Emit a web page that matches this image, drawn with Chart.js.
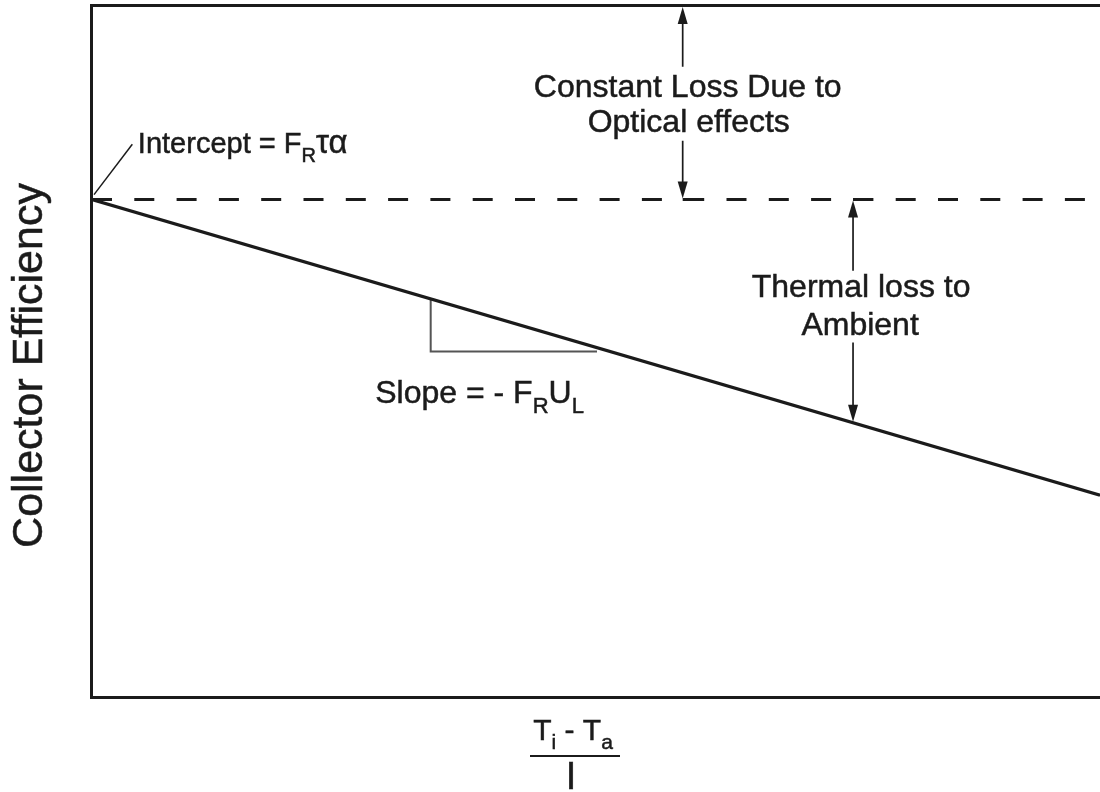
<!DOCTYPE html>
<html>
<head>
<meta charset="utf-8">
<title>Collector Efficiency</title>
<script src="https://cdn.jsdelivr.net/npm/chart.js@4/dist/chart.umd.min.js"></script>
<style>
  html, body { margin: 0; padding: 0; background: #fff; }
  #diagram { width: 1100px; height: 792px; }
</style>
</head>
<body>
<div id="diagram">
  <canvas id="chart" width="1100" height="792"></canvas>
</div>
<script>
// x = (Ti - Ta) / I, arbitrary units; y = collector efficiency
const xPoints = [0, 10];
const opticalLimit = [0.72, 0.72];      // dashed line, intercept FR*tau*alpha
const efficiency = [0.72, 0.292];        // solid line, slope -FR*UL

// slope triangle under the efficiency line
const slopeX = [3.36, 3.36, 5.01];
const slopeY = [0.576, 0.5, 0.5];

// double arrows: x, top y, bottom y
const arrowX = [5.86, 7.55];
const arrowTop = [1.0, 0.72];
const arrowBottom = [0.72, 0.397];

const INK = '#1b1b1b';
const FONT = '"Liberation Sans", Arial, Helvetica, sans-serif';

const toPoints = (xs, ys) => xs.map((x, i) => ({ x: x, y: ys[i] }));

// draws text made of normal and subscript parts
function drawRich(ctx, parts, x, y, size, align) {
    const subSize = Math.round(size * 0.7);
    const sizeOf = p => p.size || (p.sub ? subSize : size);
    let total = 0;
    parts.forEach(p => {
        ctx.font = sizeOf(p) + 'px ' + FONT;
        p.w = ctx.measureText(p.t).width;
        total += p.w;
    });
    let cx = align === 'center' ? x - total / 2 : x;
    ctx.textAlign = 'left';
    ctx.textBaseline = 'alphabetic';
    ctx.lineWidth = 0.5;
    parts.forEach(p => {
        ctx.font = sizeOf(p) + 'px ' + FONT;
        const ty = p.sub ? y + size * 0.3 : y;
        ctx.fillText(p.t, cx, ty);
        ctx.strokeText(p.t, cx, ty);
        cx += p.w;
    });
}

function arrowHead(ctx, x, y, dir) {
    ctx.beginPath();
    ctx.moveTo(x, y);
    ctx.lineTo(x - 5, y - dir * 17);
    ctx.lineTo(x + 5, y - dir * 17);
    ctx.closePath();
    ctx.fill();
}

const annotations = {
    id: 'annotations',
    afterDraw(chart) {
        const ctx = chart.ctx;
        const xs = chart.scales.x;
        const ys = chart.scales.y;
        const area = chart.chartArea;
        const px = v => xs.getPixelForValue(v);
        const py = v => ys.getPixelForValue(v);

        ctx.save();
        ctx.strokeStyle = INK;
        ctx.fillStyle = INK;

        // frame: left, top, bottom (right side is cut off)
        ctx.lineWidth = 3;
        ctx.beginPath();
        ctx.moveTo(area.right + 2, area.top - 0.5);
        ctx.lineTo(area.left - 0.5, area.top - 0.5);
        ctx.lineTo(area.left - 0.5, area.bottom + 0.5);
        ctx.lineTo(area.right + 2, area.bottom + 0.5);
        ctx.stroke();

        // arrows with a gap for their labels
        const gaps = [[py(0.912), py(0.805)], [py(0.617), py(0.513)]];
        ctx.lineWidth = 1.7;
        arrowX.forEach((ax, i) => {
            const x = px(ax);
            const top = py(arrowTop[i]) + 1;
            const bottom = py(arrowBottom[i]) - 1;
            ctx.beginPath();
            ctx.moveTo(x, top + 10);
            ctx.lineTo(x, gaps[i][0]);
            ctx.moveTo(x, gaps[i][1]);
            ctx.lineTo(x, bottom - 10);
            ctx.stroke();
            arrowHead(ctx, x, top, -1);
            arrowHead(ctx, x, bottom, 1);
        });
        // short solid piece where the arrows meet the dashed line
        ctx.lineWidth = 3;
        ctx.beginPath();
        ctx.moveTo(px(arrowX[0]), py(0.72));
        ctx.lineTo(px(arrowX[0]) + 16, py(0.72));
        ctx.moveTo(px(arrowX[1]), py(0.72));
        ctx.lineTo(px(arrowX[1]) + 14, py(0.72));
        ctx.stroke();

        // leader line for the intercept label
        ctx.lineWidth = 1.5;
        ctx.beginPath();
        ctx.moveTo(px(0.02), py(0.727));
        ctx.lineTo(px(0.4), py(0.8));
        ctx.stroke();

        drawRich(ctx, [{ t: 'Intercept = F' }, { t: 'R', sub: true }, { t: 'τα', size: 33 }],
            px(0.455), py(0.787), 29, 'left');
        drawRich(ctx, [{ t: 'Constant Loss Due to' }], px(5.91), py(0.868), 32, 'center');
        drawRich(ctx, [{ t: 'Optical effects' }], px(5.92), py(0.818), 32, 'center');
        drawRich(ctx, [{ t: 'Thermal loss to' }], px(7.63), py(0.579), 32, 'center');
        drawRich(ctx, [{ t: 'Ambient' }], px(7.62), py(0.524), 32, 'center');
        drawRich(ctx, [{ t: 'Slope = - F' }, { t: 'R', sub: true }, { t: 'U' }, { t: 'L', sub: true }],
            px(2.81), py(0.4255), 32, 'left');

        // y axis title
        ctx.save();
        ctx.translate(42, (area.top + area.bottom) / 2 + 14);
        ctx.rotate(-Math.PI / 2);
        ctx.font = '43px ' + FONT;
        ctx.textAlign = 'center';
        ctx.textBaseline = 'alphabetic';
        ctx.lineWidth = 0.5;
        ctx.fillText('Collector Efficiency', 0, 0);
        ctx.strokeText('Collector Efficiency', 0, 0);
        ctx.restore();

        // x axis title as a fraction (Ti - Ta) / I
        const cx = 573;
        drawRich(ctx, [{ t: 'T' }, { t: 'i', sub: true }, { t: ' - T' }, { t: 'a', sub: true }],
            cx, area.bottom + 43, 30, 'center');
        ctx.lineWidth = 2.2;
        ctx.beginPath();
        ctx.moveTo(cx - 43, area.bottom + 59);
        ctx.lineTo(cx + 47, area.bottom + 59);
        ctx.stroke();
        drawRich(ctx, [{ t: 'I' }], cx - 2, area.bottom + 92, 38, 'center');

        ctx.restore();
    }
};

const ctx = document.getElementById('chart').getContext('2d');
new Chart(ctx, {
    type: 'scatter',
    data: {
        datasets: [
            {
                label: 'Optical limit',
                data: toPoints(xPoints, opticalLimit),
                showLine: true,
                borderColor: INK,
                borderWidth: 3,
                borderDash: [20, 22.3],
                pointRadius: 0,
            },
            {
                label: 'Collector efficiency',
                data: toPoints(xPoints, efficiency),
                showLine: true,
                borderColor: INK,
                borderWidth: 3.2,
                pointRadius: 0,
            },
            {
                label: 'Slope',
                data: toPoints(slopeX, slopeY),
                showLine: true,
                borderColor: '#555',
                borderWidth: 2,
                pointRadius: 0,
            },
        ],
    },
    options: {
        responsive: false,
        animation: false,
        layout: {
            padding: { left: 92, top: 6, right: 0, bottom: 95 },
        },
        plugins: {
            legend: { display: false },
            tooltip: { enabled: false },
        },
        scales: {
            x: { type: 'linear', min: 0, max: 10, display: false },
            y: { type: 'linear', min: 0, max: 1, display: false },
        },
    },
    plugins: [annotations],
});
</script>
</body>
</html>
